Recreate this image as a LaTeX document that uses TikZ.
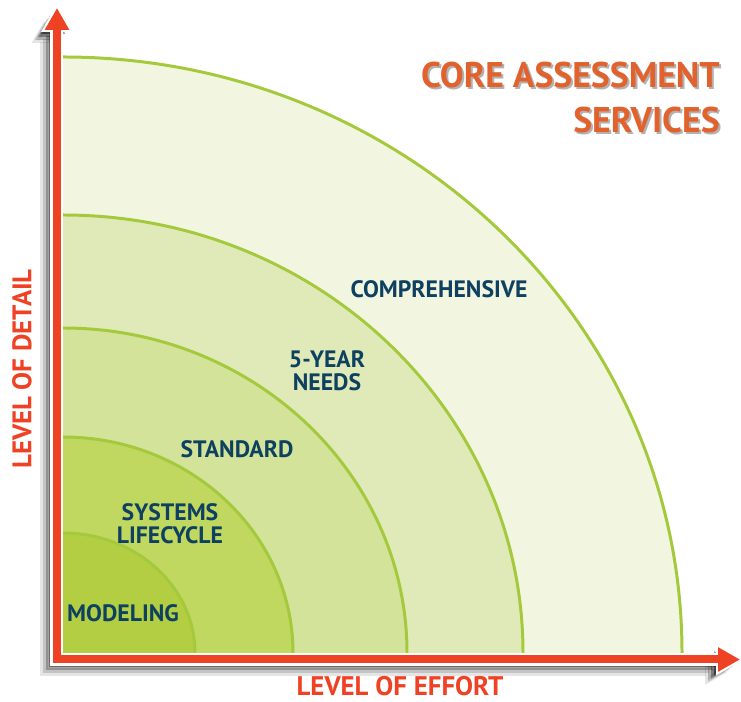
\documentclass[tikz,border=0pt]{standalone}
\usepackage{fontspec}
\setmainfont{PT Sans}
\usetikzlibrary{arrows.meta}

\definecolor{ringline}{HTML}{A5C93C}
\definecolor{ringA}{HTML}{F2F6E0}
\definecolor{ringB}{HTML}{E0EAB8}
\definecolor{ringC}{HTML}{D4E39A}
\definecolor{ringD}{HTML}{C0D760}
\definecolor{ringE}{HTML}{B3CE43}
\definecolor{labelblue}{HTML}{0E4160}
\definecolor{axisred}{HTML}{EF4123}
\definecolor{titleorange}{HTML}{E2622E}

\tikzset{
  ring label/.style={text=labelblue, font=\bfseries\fontsize{13.5}{13}\selectfont, align=center, inner sep=0pt},
  axis label/.style={text=axisred, font=\bfseries\fontsize{15.3}{15}\selectfont, inner sep=0pt},
  title label/.style={font=\bfseries\fontsize{20.3}{25.6}\selectfont, align=right, inner sep=0pt, anchor=north east},
  axis arrow/.style={line width=0.16cm, {Triangle[width=0.46cm,length=0.44cm]}-{Triangle[width=0.46cm,length=0.44cm]}}
}

\begin{document}
\begin{tikzpicture}
    \useasboundingbox (-1.26,-0.98) rectangle (13.56,13.06);

    % rings, outermost first
    \foreach \rx/\ry/\col in {12.38/11.92/ringA, 9.2/8.76/ringB, 6.88/6.5/ringC, 4.6/4.32/ringD, 2.64/2.4/ringE}
    {
        \fill[\col] (0,0) -- (\rx,0) arc[start angle=0, end angle=90, x radius=\rx, y radius=\ry] -- cycle;
        \draw[ringline, line width=1.7pt] (\rx,0) arc[start angle=0, end angle=90, x radius=\rx, y radius=\ry];
    }

    % axis
    \coordinate (O) at (-0.12,-0.13);
    \coordinate (ytip) at (-0.12,12.9);
    \coordinate (xtip) at (13.54,-0.13);

    % axis shadow
    \foreach \s/\op in {0.26/0.10, 0.20/0.15, 0.14/0.25, 0.08/0.35}
        \draw[black, opacity=\op, axis arrow] ([shift={(-\s,-\s)}]ytip) -- ([shift={(-\s,-\s)}]O) -- ([shift={(-\s,-\s)}]xtip);

    % axis outline and arrows
    \draw[white, line width=0.26cm, {Triangle[width=0.6cm,length=0.56cm]}-{Triangle[width=0.6cm,length=0.56cm]}]
        ([yshift=0.08cm]ytip) -- (O) -- ([xshift=0.08cm]xtip);
    \draw[axisred, axis arrow] (ytip) -- (O) -- (xtip);

    % ring labels
    \node[ring label] (comprehensive) at (7.52,7.28) {COMPREHENSIVE};
    \node[ring label] (fiveyear) at (5.28,5.64) {5-YEAR\\NEEDS};
    \node[ring label] (standard) at (3.48,4.08) {STANDARD};
    \node[ring label] (systems) at (2.14,2.58) {SYSTEMS\\LIFECYCLE};
    \node[ring label] (modeling) at (1.2,0.8) {MODELING};

    % axis labels
    \node[axis label, rotate=90] (detail) at (-0.82,5.68) {LEVEL OF DETAIL};
    \node[axis label] (effort) at (6.74,-0.66) {LEVEL OF EFFORT};

    % title
    \node[title label, text=black, opacity=0.3] (titleshadow) at (13.18,11.78) {CORE ASSESSMENT\\SERVICES};
    \node[title label, text=titleorange] (title) at (13.14,11.82) {CORE ASSESSMENT\\SERVICES};
\end{tikzpicture}
\end{document}
